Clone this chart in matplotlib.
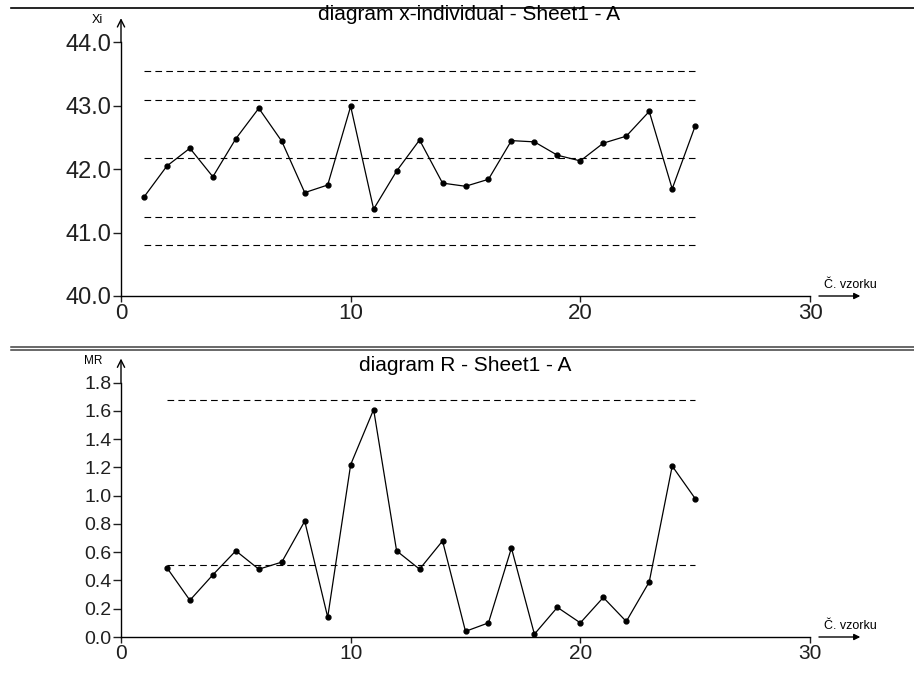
import numpy as np
import matplotlib
matplotlib.use("Agg")
import matplotlib.pyplot as plt
from matplotlib.lines import Line2D

plt.rcParams['font.family'] = ['Liberation Sans', 'DejaVu Sans']

# sample numbers
samples = list(range(1, 26))
mr_samples = list(range(2, 26))

# individual values (x chart)
xi_values = [41.56, 42.05, 42.33, 41.88, 42.48, 42.96, 42.44, 41.63, 41.75, 42.99,
             41.37, 41.97, 42.46, 41.78, 41.73, 41.84, 42.45, 42.43, 42.22, 42.13,
             42.41, 42.52, 42.91, 41.69, 42.68]

# moving ranges (R chart)
mr_values = [0.49, 0.26, 0.44, 0.61, 0.48, 0.53, 0.82, 0.14, 1.22, 1.61,
             0.61, 0.48, 0.68, 0.04, 0.10, 0.63, 0.02, 0.21, 0.10, 0.28,
             0.11, 0.39, 1.21, 0.98]

# control limits: UCL, upper warning, centre, lower warning, LCL
xi_limits = [43.55, 43.09, 42.17, 41.25, 40.80]
mr_limits = [1.68, 0.51]

xi_ticks = [40.0, 41.0, 42.0, 43.0, 44.0]
mr_ticks = [0.0, 0.2, 0.4, 0.6, 0.8, 1.0, 1.2, 1.4, 1.6, 1.8]
x_ticks = [0, 10, 20, 30]

titles = ["diagram x-individual - Sheet1 - A", "diagram R - Sheet1 - A"]
y_names = ["Xi", "MR"]
x_name = "Č. vzorku"

W, H = 914, 681
fig = plt.figure(figsize=(W / 100, H / 100), dpi=100)

# axes boxes in pixels: (x of 0, x of 30, y px of bottom limit, y px of top limit)
ax_top = fig.add_axes([121 / W, 1 - 296 / H, 689 / W, 253.7 / H])
ax_bot = fig.add_axes([121 / W, 1 - 637 / H, 689 / W, 254.3 / H])


def style_axis(ax, yticks, fmt, ylab_size, xlab_size):
    ax.set_xlim(x_ticks[0], x_ticks[-1])
    ax.set_ylim(yticks[0], yticks[-1])
    ax.set_xticks(x_ticks)
    ax.set_yticks(yticks)
    ax.set_yticklabels([fmt.format(v) for v in yticks])
    for side in ['top', 'right']:
        ax.spines[side].set_visible(False)
    for side in ['left', 'bottom']:
        ax.spines[side].set_linewidth(1.0)
    ax.tick_params(axis='y', length=6, width=1.0, pad=1, labelsize=ylab_size, colors='#202020')
    ax.tick_params(axis='x', length=4, width=1.0, pad=1, labelsize=xlab_size, colors='#202020')
    # arrow on top of y axis
    ax.annotate('', xy=(0, 1.095), xytext=(0, 1.0), xycoords='axes fraction',
                arrowprops=dict(arrowstyle='->', color='black', lw=1.0, mutation_scale=13,
                                shrinkA=0, shrinkB=0), annotation_clip=False)
    # arrow after x axis
    ax.annotate('', xy=(1.073, 0), xytext=(1.013, 0), xycoords='axes fraction',
                arrowprops=dict(arrowstyle='-|>', color='black', lw=1.0, mutation_scale=9,
                                shrinkA=0, shrinkB=0), annotation_clip=False)
    ax.text(1.02, 0.02, x_name, transform=ax.transAxes, fontsize=9, ha='left', va='bottom')


# x chart
ax = ax_top
for lim in xi_limits:
    ax.plot([samples[0], samples[-1]], [lim, lim], color='black', lw=0.8, dashes=(6, 3.8))
ax.plot(samples, xi_values, color='black', lw=0.9, marker='o', markersize=3.5)
style_axis(ax, xi_ticks, "{:.1f}", 17, 16)

# R chart
ax = ax_bot
for lim in mr_limits:
    ax.plot([mr_samples[0], mr_samples[-1]], [lim, lim], color='black', lw=0.8, dashes=(6, 3.8))
ax.plot(mr_samples, mr_values, color='black', lw=0.9, marker='o', markersize=3.5)
style_axis(ax, mr_ticks, "{:.1f}", 14, 15)

# titles and small axis names
fig.text(469 / W, 1 - 20 / H, titles[0], ha='center', va='baseline', fontsize=15)
fig.text(465 / W, 1 - 371 / H, titles[1], ha='center', va='baseline', fontsize=15)
fig.text(97 / W, 1 - 20 / H, y_names[0], ha='center', va='center', fontsize=9)
fig.text(93 / W, 1 - 361 / H, y_names[1], ha='center', va='center', fontsize=8.5)

# frame lines: single on top, double separator between charts
fig.add_artist(Line2D([11 / W, 1], [1 - 8 / H] * 2, transform=fig.transFigure,
                      color='black', lw=1.2))
for yy in [347, 350]:
    fig.add_artist(Line2D([11 / W, 1], [1 - yy / H] * 2, transform=fig.transFigure,
                          color='#404040', lw=1.1))

plt.savefig('out.png', dpi=100)
